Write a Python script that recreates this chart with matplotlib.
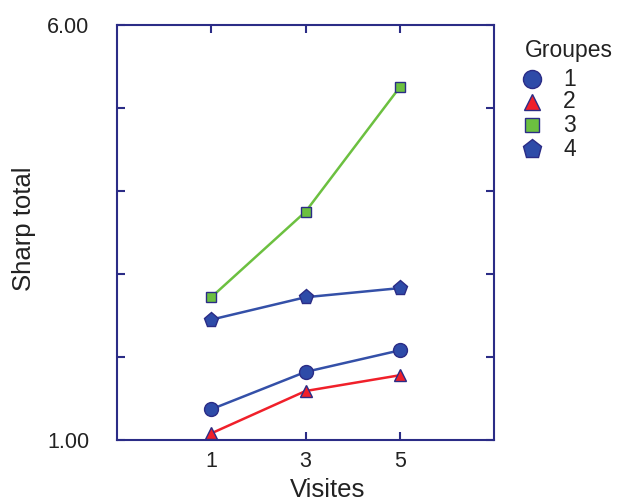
import matplotlib
matplotlib.use("Agg")
import matplotlib.pyplot as plt
from matplotlib.lines import Line2D

plt.rcParams['font.family'] = ['Liberation Sans', 'DejaVu Sans']

visits = [1, 3, 5]
group_labels = ["1", "2", "3", "4"]
g1 = [1.37, 1.82, 2.08]
g2 = [1.08, 1.59, 1.78]
g3 = [2.72, 3.75, 5.25]
g4 = [2.45, 2.72, 2.83]
yticks = [1, 2, 3, 4, 5, 6]
ytick_labels = ["1.00", "", "", "", "", "6.00"]

navy = "#2B2C86"
blue = "#3450A8"
mblue = "#2E4BA8"
red = "#F0202A"
green = "#6CC040"
txt = "#222222"

W, H = 619, 503
fig = plt.figure(figsize=(W/100, H/100), dpi=100)
ax = fig.add_axes([117/W, 1-440/H, (494-117)/W, (440-25)/H])

series = [
    (g1, blue, 'o', mblue, 10, 13),
    (g2, red, '^', red, 8, 11),
    (g3, green, 's', green, 6.5, 9.5),
    (g4, blue, 'p', mblue, 11, 14),
]
for vals, lc, mk, mfc, ms, lms in series:
    ax.plot(visits, vals, color=lc, lw=1.8, marker=mk, markersize=ms,
            markerfacecolor=mfc, markeredgecolor=navy, markeredgewidth=1.0)

ax.set_xlim(-1, 7)
ax.set_ylim(1, 6)
ax.set_xticks(visits)
ax.set_xticklabels([str(v) for v in visits])
ax.set_yticks(yticks)
ax.set_yticklabels(ytick_labels)

for s in ax.spines.values():
    s.set_color(navy)
    s.set_linewidth(1.5)
ax.tick_params(axis='both', direction='in', length=6, width=1.5, color=navy,
               top=True, right=True, labelsize=15.5, labelcolor=txt)
ax.tick_params(axis='y', pad=20)
ax.tick_params(axis='x', pad=8)

ax.set_xlabel("Visites", fontsize=18.5, color=txt)
ax.xaxis.set_label_coords(0.558, -0.092)
ax.set_ylabel("Sharp total", fontsize=18.5, color=txt)
ax.yaxis.set_label_coords(-0.215, 0.508)

# legend
fig.text(525/W, 1-50/H, "Groupes", fontsize=16.5, color=txt, ha='left', va='center')
leg_y = [79, 102, 125, 149]
for (vals, lc, mk, mfc, ms, lms), lab, y in zip(series, group_labels, leg_y):
    fig.add_artist(Line2D([532/W], [1-y/H], transform=fig.transFigure,
                          linestyle='none', marker=mk, markersize=lms,
                          markerfacecolor=mfc, markeredgecolor=navy,
                          markeredgewidth=1.0))
    fig.text(563/W, 1-y/H, lab, fontsize=16.5, color=txt, ha='left', va='center')

fig.savefig("out.png", dpi=100)
